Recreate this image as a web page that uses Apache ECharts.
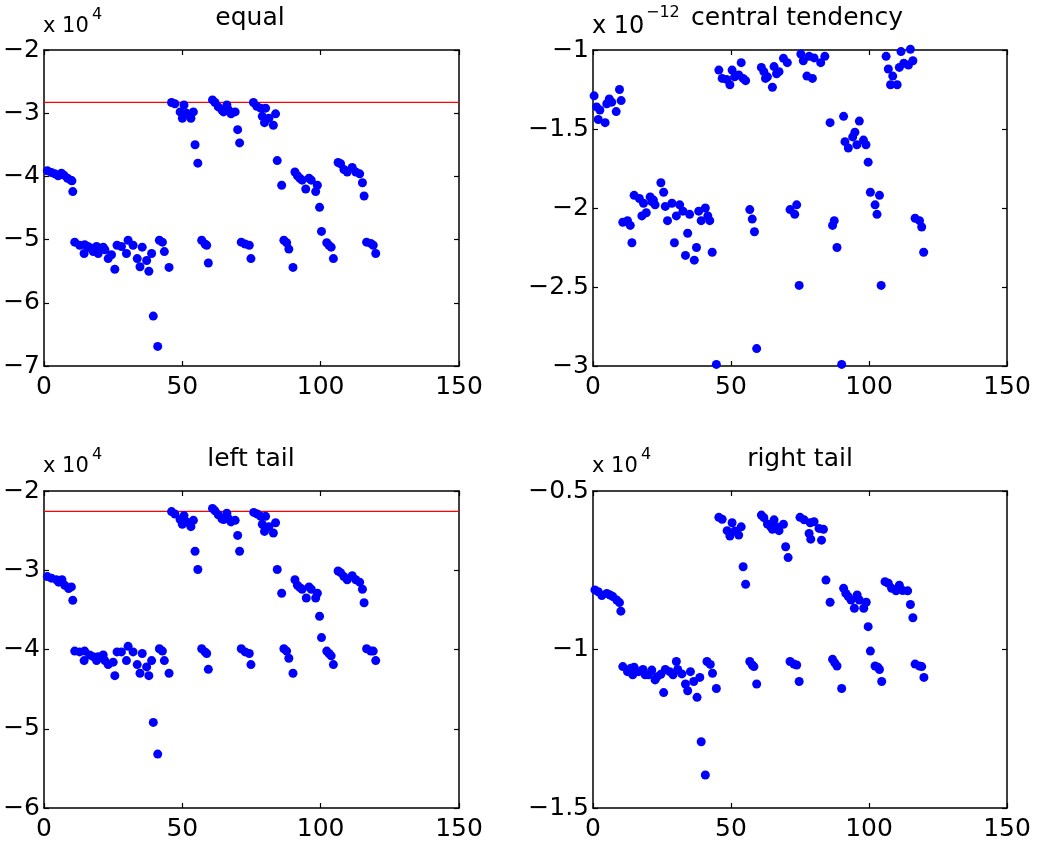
<!DOCTYPE html>
<html><head><meta charset="utf-8">
<script src="https://cdn.jsdelivr.net/npm/echarts@6/dist/echarts.min.js"></script>
<style>html,body{margin:0;padding:0;background:#fff}#c{width:1039px;height:852px}</style>
</head><body><div id="c"></div>
<script>
// ---- data ----
const titles = ['equal', 'central tendency', 'left tail', 'right tail'];
const xTicks = [0, 50, 100, 150];
const exponents = ['4', '\u221212', '4', '4'];
// y axis [min, max, step] in displayed units
const yRanges = [[-7, -2, 1], [-3, -1, 0.5], [-6, -2, 1], [-1.5, -0.5, 0.5]];
const equalRef = -2.83;
const leftRef = -2.257;

const equalPts = [
[1.2,-3.91],[2.7,-3.94],[3.9,-3.96],[5.1,-3.99],[6.3,-3.95],[7.2,-3.98],[8.5,-4.03],[9.7,-4.06],[10.1,-4.07],[10.4,-4.24],
[11.1,-5.04],[12.9,-5.09],[14.7,-5.08],[14.5,-5.22],[15.9,-5.11],[17.1,-5.14],[17.8,-5.19],[19.0,-5.11],[19.6,-5.22],[21.4,-5.12],
[22.0,-5.16],[23.2,-5.30],[24.4,-5.24],[25.6,-5.47],[26.4,-5.09],[28.0,-5.11],[29.8,-5.22],[30.4,-5.01],[32.2,-5.09],[33.7,-5.30],
[34.7,-5.43],[35.5,-5.12],[37.1,-5.33],[37.9,-5.50],[38.9,-5.22],[39.5,-6.21],[41.1,-6.69],[41.7,-5.01],[42.8,-5.04],[43.5,-5.19],[45.2,-5.44],
[46.1,-2.83],[47.3,-2.85],[49.2,-2.98],[50.0,-3.08],[50.6,-2.87],[51.6,-3.00],[53.1,-3.08],[54.0,-2.98],[54.6,-3.50],[55.6,-3.79],
[57.0,-5.01],[58.2,-5.07],[58.8,-5.09],[59.4,-5.37],
[60.9,-2.79],[61.8,-2.83],[63.0,-2.90],[64.3,-2.95],[64.9,-2.98],[66.1,-2.87],[66.7,-2.95],[67.6,-3.01],[69.1,-2.98],[70.0,-3.26],[70.7,-3.47],
[71.3,-5.04],[72.7,-5.07],[74.2,-5.09],[74.8,-5.30],
[75.7,-2.83],[76.9,-2.89],[78.3,-2.92],[80.1,-2.92],[78.9,-3.05],[79.7,-3.15],[81.3,-3.08],[82.9,-3.19],[83.7,-3.01],[84.3,-3.75],[85.9,-4.14],
[86.7,-5.01],[87.7,-5.05],[88.5,-5.15],[90.0,-5.44],
[90.7,-3.93],[91.6,-3.99],[92.5,-4.03],[93.3,-4.06],[94.6,-4.20],[95.8,-4.03],[96.6,-4.06],[98.2,-4.24],[98.8,-4.14],[99.6,-4.49],
[100.3,-4.87],[102.2,-5.05],[103.0,-5.09],[103.8,-5.12],[104.6,-5.30],
[106.3,-3.78],[107.2,-3.80],[108.4,-3.89],[109.6,-3.93],[111.4,-3.86],[112.7,-3.93],[114.1,-3.96],[115.1,-4.10],[115.7,-4.31],
[116.6,-5.04],[118.1,-5.06],[119.0,-5.09],[119.9,-5.22]
];

const centralPts = [
[0.4,-1.29],[1.3,-1.36],[2.5,-1.38],[1.9,-1.44],[4.4,-1.46],[5.0,-1.34],[5.9,-1.31],[6.8,-1.33],[8.4,-1.39],[9.6,-1.25],[10.2,-1.32],
[10.8,-2.09],[12.5,-2.08],[13.5,-2.11],[14.1,-2.22],[14.9,-1.92],[16.8,-1.94],[17.7,-2.05],[18.3,-1.97],[19.3,-2.03],[20.7,-1.93],
[21.3,-1.96],[21.9,-1.95],[22.5,-1.98],[24.6,-1.84],[25.6,-1.90],[26.2,-1.99],[27.0,-2.08],[28.6,-1.97],[29.5,-2.22],[30.2,-2.05],
[31.4,-1.98],[32.6,-2.02],[33.5,-2.30],[34.3,-2.16],[35.0,-2.04],[36.7,-2.33],[37.5,-2.25],[38.3,-2.02],[39.2,-2.08],[40.7,-2.00],
[41.6,-2.05],[42.3,-2.08],[43.2,-2.28],[44.7,-2.99],
[45.6,-1.127],[46.8,-1.18],[48.4,-1.186],[49.6,-1.22],[50.4,-1.127],[51.3,-1.17],[52.8,-1.158],[53.7,-1.08],[54.4,-1.18],[55.3,-1.194],
[56.8,-2.01],[57.7,-2.07],[58.5,-2.15],[59.3,-2.89],
[61.0,-1.11],[61.9,-1.137],[62.5,-1.18],[63.2,-1.17],[65.0,-1.236],[65.6,-1.105],[66.5,-1.15],[67.4,-1.137],[69.0,-1.053],[70.4,-1.08],
[71.4,-2.01],[73.1,-2.04],[73.8,-1.98],[74.7,-2.49],
[75.3,-1.025],[76.2,-1.068],[77.5,-1.165],[78.3,-1.04],[80.1,-1.05],[82.5,-1.08],[84.0,-1.04],[79.5,-1.18],
[85.9,-1.46],[90.8,-1.42],[96.5,-1.45],[94.9,-1.52],[94.1,-1.55],[91.3,-1.58],[92.5,-1.62],[95.6,-1.60],[98.0,-1.57],[98.9,-1.60],
[99.7,-1.71],[100.5,-1.90],[103.8,-1.92],[102.2,-1.98],[102.9,-2.04],[87.4,-2.08],[86.8,-2.11],[88.4,-2.25],[104.4,-2.49],[90.1,-2.99],
[106.2,-1.04],[107.0,-1.12],[108.6,-1.165],[107.8,-1.22],[110.2,-1.22],[111.0,-1.11],[111.6,-1.01],[112.6,-1.084],[114.3,-1.095],[115.0,-0.996],[115.9,-1.068],
[116.7,-2.065],[118.3,-2.08],[119.1,-2.12],[119.8,-2.28]
];

const leftPts = [
[1.2,-3.08],[2.7,-3.10],[4.5,-3.12],[5.3,-3.15],[6.5,-3.12],[7.5,-3.19],[8.9,-3.23],[9.9,-3.21],[10.4,-3.38],
[11.1,-4.02],[12.9,-4.03],[14.7,-4.02],[14.5,-4.14],[16.5,-4.07],[17.8,-4.09],[19.0,-4.14],[19.6,-4.09],[21.4,-4.07],[22.0,-4.14],
[23.2,-4.19],[25.0,-4.16],[25.6,-4.33],[26.4,-4.03],[28.0,-4.03],[29.8,-4.14],[30.4,-3.96],[32.2,-4.03],[33.7,-4.19],[34.7,-4.30],
[35.5,-4.05],[37.1,-4.22],[37.9,-4.33],[38.9,-4.14],[39.5,-4.92],[41.1,-5.32],[41.7,-3.99],[42.8,-4.02],[43.5,-4.14],[45.2,-4.30],
[46.1,-2.26],[47.3,-2.29],[49.2,-2.36],[50.0,-2.42],[50.6,-2.31],[51.6,-2.39],[53.1,-2.45],[54.0,-2.37],[54.6,-2.76],[55.6,-2.99],
[57.0,-3.99],[58.2,-4.03],[58.8,-4.05],[59.4,-4.25],
[60.9,-2.22],[61.8,-2.25],[63.0,-2.30],[64.3,-2.35],[64.9,-2.36],[66.1,-2.28],[66.7,-2.35],[67.6,-2.39],[69.1,-2.37],[70.0,-2.56],[70.7,-2.76],
[71.3,-3.99],[72.7,-4.03],[74.2,-4.05],[74.8,-4.19],
[75.8,-2.27],[77.1,-2.29],[78.3,-2.32],[80.1,-2.32],[78.9,-2.42],[79.7,-2.51],[81.3,-2.45],[82.9,-2.53],[83.7,-2.40],[84.3,-2.99],[85.9,-3.29],
[86.7,-3.99],[87.7,-4.02],[88.5,-4.11],[90.0,-4.30],
[90.7,-3.12],[91.6,-3.19],[92.5,-3.22],[93.3,-3.24],[94.8,-3.35],[95.8,-3.21],[96.6,-3.24],[98.2,-3.35],[98.8,-3.29],[99.6,-3.58],
[100.3,-3.85],[102.2,-4.02],[103.0,-4.05],[103.8,-4.08],[104.6,-4.19],
[106.3,-3.01],[107.2,-3.03],[108.4,-3.08],[109.6,-3.12],[111.4,-3.07],[112.7,-3.12],[114.1,-3.15],[115.1,-3.24],[115.7,-3.41],
[116.6,-3.99],[118.1,-4.02],[119.0,-4.02],[119.9,-4.14]
];

const rightPts = [
[0.7,-0.812],[1.9,-0.818],[3.2,-0.830],[5.0,-0.823],[6.2,-0.828],[7.2,-0.833],[8.6,-0.844],[9.6,-0.852],[10.1,-0.879],
[10.8,-1.054],[12.5,-1.070],[13.7,-1.059],[14.4,-1.080],[14.9,-1.056],[16.5,-1.070],[18.1,-1.063],[18.9,-1.080],[20.1,-1.080],[21.3,-1.065],
[22.5,-1.096],[23.2,-1.086],[24.6,-1.078],[25.6,-1.136],[26.2,-1.063],[27.8,-1.070],[29.0,-1.080],[30.2,-1.038],[30.7,-1.063],[32.2,-1.077],
[33.5,-1.109],[34.3,-1.130],[35.3,-1.070],[36.5,-1.101],[37.7,-1.151],[38.7,-1.088],[39.2,-1.291],[40.7,-1.396],[41.3,-1.038],[42.5,-1.047],
[43.3,-1.075],[44.7,-1.123],
[45.6,-0.583],[46.8,-0.589],[48.6,-0.625],[49.6,-0.642],[50.4,-0.600],[51.4,-0.626],[52.8,-0.639],[53.7,-0.613],[54.4,-0.739],[55.3,-0.794],
[56.8,-1.038],[57.7,-1.049],[58.3,-1.054],[59.3,-1.109],
[61.0,-0.576],[61.9,-0.584],[63.2,-0.604],[64.4,-0.613],[65.0,-0.621],[65.6,-0.591],[66.5,-0.613],[67.4,-0.625],[69.0,-0.605],[69.8,-0.676],[70.7,-0.710],
[71.4,-1.038],[72.8,-1.046],[73.8,-1.049],[74.7,-1.101],
[75.0,-0.583],[76.5,-0.591],[78.3,-0.634],[78.9,-0.652],[78.7,-0.600],[80.1,-0.597],[81.9,-0.618],[82.8,-0.655],[83.5,-0.621],
[84.4,-0.781],[85.9,-0.851],
[86.8,-1.031],[87.6,-1.042],[88.4,-1.052],[90.1,-1.123],
[90.8,-0.807],[91.6,-0.823],[92.5,-0.833],[93.5,-0.844],[94.7,-0.870],[95.7,-0.828],[96.5,-0.844],[98.1,-0.870],[99.0,-0.851],[99.7,-0.928],
[100.5,-1.005],[102.2,-1.052],[103.2,-1.056],[103.8,-1.063],[104.6,-1.101],
[105.8,-0.786],[107.0,-0.791],[108.2,-0.807],[109.8,-0.815],[111.0,-0.797],[112.2,-0.814],[114.0,-0.815],[115.0,-0.858],[115.9,-0.900],
[116.7,-1.046],[118.3,-1.052],[119.1,-1.054],[119.9,-1.088]
];

const allPts = [equalPts, centralPts, leftPts, rightPts];
const refLines = [equalRef, null, leftRef, null];

// ---- layout & styles ----
const FONT = 'DejaVu Sans';
const grids = [
  {left: 44, top: 50, width: 415, height: 316},
  {left: 593, top: 50, width: 414, height: 316},
  {left: 44, top: 491, width: 415, height: 317},
  {left: 593, top: 491, width: 414, height: 317}
];
const fmt = v => (v < 0 ? '\u2212' : '') + String(Math.abs(v));
const lineStyle = {color: '#000', width: 1.5};
const tick = {show: true, inside: true, length: 5, lineStyle: {color: '#000', width: 1.2}};

const xAxis = [], yAxis = [], series = [], graphic = [];
grids.forEach((g, i) => {
  const [ymin, ymax, ystep] = yRanges[i];
  const xmin = xTicks[0], xmax = xTicks[xTicks.length - 1];
  xAxis.push({
    gridIndex: i, type: 'value', position: 'bottom', min: xmin, max: xmax,
    interval: xTicks[1] - xTicks[0],
    axisLine: {show: true, onZero: false, lineStyle}, axisTick: tick, splitLine: {show: false},
    axisLabel: {show: true, color: '#000', fontFamily: FONT, fontSize: 25, margin: 9, formatter: fmt}
  });
  xAxis.push({
    gridIndex: i, type: 'value', position: 'top', min: xmin, max: xmax,
    interval: xTicks[1] - xTicks[0],
    axisLine: {show: true, onZero: false, lineStyle}, axisTick: tick, splitLine: {show: false},
    axisLabel: {show: false}
  });
  yAxis.push({
    gridIndex: i, type: 'value', position: 'left', min: ymin, max: ymax, interval: ystep,
    axisLine: {show: true, onZero: false, lineStyle}, axisTick: tick, splitLine: {show: false},
    axisLabel: {show: true, color: '#000', fontFamily: FONT, fontSize: 25, margin: 4, formatter: fmt}
  });
  yAxis.push({
    gridIndex: i, type: 'value', position: 'right', min: ymin, max: ymax, interval: ystep,
    axisLine: {show: true, onZero: false, lineStyle}, axisTick: tick, splitLine: {show: false},
    axisLabel: {show: false}
  });
  if (refLines[i] !== null) {
    series.push({
      type: 'line', xAxisIndex: 2 * i, yAxisIndex: 2 * i, silent: true, z: 1,
      data: [[xmin, refLines[i]], [xmax, refLines[i]]],
      symbol: 'none', lineStyle: {color: '#ff0000', width: 1.2, type: 'solid'}
    });
  }
  series.push({
    type: 'scatter', xAxisIndex: 2 * i, yAxisIndex: 2 * i, data: allPts[i],
    symbol: 'circle', symbolSize: 9, clip: false, z: 2,
    itemStyle: {color: '#0000ff', opacity: 1}, silent: true
  });

  // title
  const tx = [250, 797, 251, 800][i];
  const ty = [18, 18, 459.5, 459.5][i];
  graphic.push({type: 'text', style: {
    text: titles[i], x: tx, y: ty, fill: '#000', font: '25px "' + FONT + '"',
    align: 'center', verticalAlign: 'middle', textAlign: 'center', textVerticalAlign: 'middle'
  }});
  // exponent label "x 10^n"
  const big = (i === 1) ? 24 : 21;
  const ex = g.left - 1;
  const ey = (i < 2 ? 27 : 467);
  graphic.push({type: 'text', style: {
    text: 'x 10', x: ex, y: ey, fill: '#000', font: big + 'px "' + FONT + '"',
    align: 'left', verticalAlign: 'middle', textAlign: 'left', textVerticalAlign: 'middle'
  }});
  graphic.push({type: 'text', style: {
    text: exponents[i], x: ex + (i === 1 ? 54 : 49), y: ey - (i === 1 ? 14 : 12), fill: '#000',
    font: (i === 1 ? 16 : 16) + 'px "' + FONT + '"',
    align: 'left', verticalAlign: 'middle', textAlign: 'left', textVerticalAlign: 'middle'
  }});
});

const chart = echarts.init(document.getElementById('c'), null, {renderer: 'canvas'});
chart.setOption({
  animation: false,
  backgroundColor: '#fff',
  grid: grids.map(g => Object.assign({containLabel: false}, g)),
  xAxis, yAxis, series, graphic
});
</script>
</body></html>
